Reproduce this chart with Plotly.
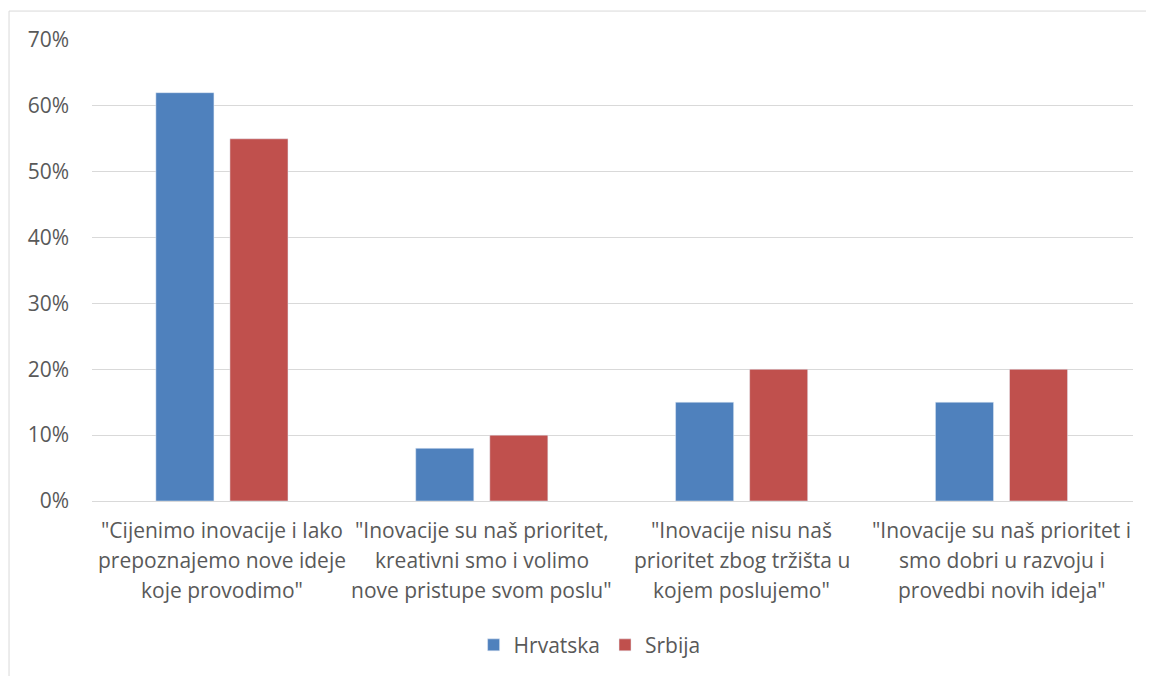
import plotly.graph_objects as go

category_lines = [
    ['"Cijenimo inovacije i lako', 'prepoznajemo nove ideje', 'koje provodimo"'],
    ['"Inovacije su naš prioritet,', 'kreativni smo i volimo', 'nove pristupe svom poslu"'],
    ['"Inovacije nisu naš', 'prioritet zbog tržišta u', 'kojem poslujemo"'],
    ['"Inovacije su naš prioritet i', 'smo dobri u razvoju i', 'provedbi novih ideja"'],
]
categories = [" ".join(lines) for lines in category_lines]
hrvatska = [0.62, 0.08, 0.15, 0.15]
srbija = [0.55, 0.10, 0.20, 0.20]
tick_vals = [0, 0.1, 0.2, 0.3, 0.4, 0.5, 0.6, 0.7]

FONT = "Open Sans"
GRAY = "#595959"
FS = 21

fig = go.Figure()
fig.add_trace(go.Bar(name="Hrvatska", x=categories, y=hrvatska, marker_color="#4F81BD"))
fig.add_trace(go.Bar(name="Srbija", x=categories, y=srbija, marker_color="#C0504D"))

PLOT_H = 462
annotations = []
for cat, lines in zip(categories, category_lines):
    for i, line in enumerate(lines):
        annotations.append(dict(
            x=cat, xref="x", y=-(29 + 30 * i) / PLOT_H, yref="paper",
            text=line, showarrow=False, xanchor="center", yanchor="middle",
            font=dict(family=FONT, size=FS, color=GRAY)))

fig.update_layout(
    width=1146, height=668,
    margin=dict(l=84, r=21, t=32, b=174),
    paper_bgcolor="white", plot_bgcolor="white",
    barmode="group", bargap=0.43, bargroupgap=0.216,
    font=dict(family=FONT, size=FS, color=GRAY),
    legend=dict(orientation="h", x=0.478, xanchor="center", y=-0.31, yanchor="middle",
                font=dict(size=FS, color=GRAY), itemwidth=30),
    xaxis=dict(showgrid=False, showline=True, linecolor="#d9d9d9", linewidth=1,
               ticks="", showticklabels=False, automargin=False),
    yaxis=dict(range=[0, 0.7], tickvals=tick_vals, tickformat=".0%",
               showgrid=True, gridcolor="#d9d9d9", gridwidth=1, zeroline=False,
               showline=False, ticks="", tickfont=dict(size=FS, color=GRAY),
               automargin=False, ticklabelstandoff=22),
    annotations=annotations,
    shapes=[dict(type="rect", xref="paper", yref="paper",
                 x0=-0.0797, x1=1.05, y0=-0.5, y1=1.0628,
                 line=dict(color="#d9d9d9", width=1), fillcolor="rgba(0,0,0,0)",
                 layer="below")],
)

fig.write_html("out.html")
